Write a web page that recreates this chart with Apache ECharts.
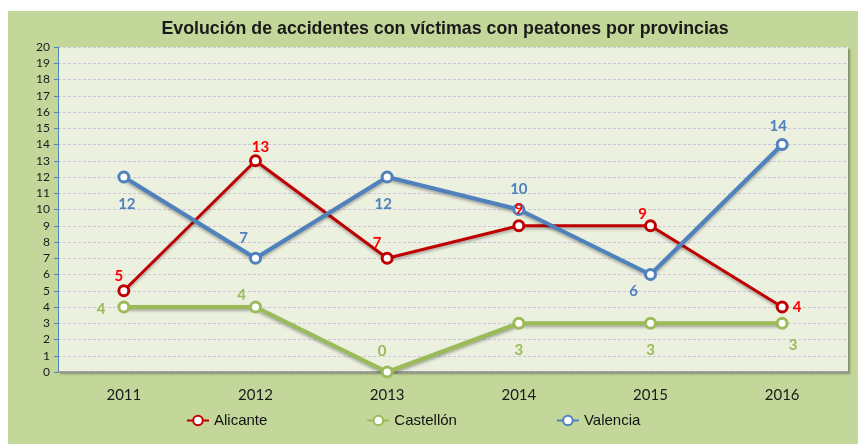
<!DOCTYPE html>
<html>
<head>
<meta charset="utf-8">
<style>
  html, body { margin: 0; padding: 0; background: #ffffff; }
  #chart { width: 858px; height: 444px; }
</style>
<script src="https://cdn.jsdelivr.net/npm/echarts@6/dist/echarts.min.js"></script>
</head>
<body>
<div id="chart"></div>
<script>
// Accidentes con víctimas con peatones, por provincia y año
const years = ['2011', '2012', '2013', '2014', '2015', '2016'];
const alicante = [5, 13, 7, 9, 9, 4];
const castellon = [4, 4, 0, 3, 3, 3];
const valencia = [12, 7, 12, 10, 6, 14];

// Where each value label sits relative to its point, how far away, and a small nudge
const alicanteLabelPos = ['top', 'top', 'top', 'top', 'top', 'right'];
const alicanteLabelGap = [6, 3, 6, 5, 3, 4];
const alicanteLabelShift = [[-5, 5], [5, 3], [-10, 5], [0, 2], [-8, 5], [0, 0]];
const castellonLabelPos = ['left', 'top', 'top', 'bottom', 'bottom', 'bottom'];
const castellonLabelGap = [12, 4, 12, 13, 13, 13];
const castellonLabelShift = [[0, 2], [-14, 6], [-5, 5], [0, 0], [0, 0], [11, -5]];
const valenciaLabelPos = ['bottom', 'top', 'bottom', 'top', 'bottom', 'top'];
const valenciaLabelGap = [13, 6, 13, 10, 10, 8];
const valenciaLabelShift = [[3, 0], [-12, 0], [-4, 0], [0, 4], [-17, -7], [-4, 4]];

const labelFont = 'Lato, "Open Sans", sans-serif';

function withLabels(values, positions, gaps, shifts) {
  return values.map((v, i) => ({
    value: v,
    label: { position: positions[i], distance: gaps[i], offset: shifts[i] }
  }));
}

function makeSeries(name, data, color, labelColor, width) {
  return {
    name: name,
    type: 'line',
    data: data,
    symbol: 'circle',
    symbolSize: 10,
    itemStyle: { color: '#ffffff', borderColor: color, borderWidth: 3 },
    lineStyle: {
      color: color, width: width,
      shadowColor: 'rgba(0,0,0,0.3)', shadowBlur: 3, shadowOffsetY: 2
    },
    label: {
      show: true,
      color: labelColor,
      fontFamily: labelFont,
      fontWeight: 'bold',
      fontSize: 15
    },
    z: 3
  };
}

const chart = echarts.init(document.getElementById('chart'));
chart.setOption({
  backgroundColor: '#ffffff',
  animation: false,
  graphic: [{
    type: 'rect',
    shape: { x: 8, y: 11, width: 850, height: 433 },
    style: { fill: '#c4d79b' },
    z: -10
  }],
  title: {
    text: 'Evolución de accidentes con víctimas con peatones por provincias',
    left: 440,
    textAlign: 'center',
    top: 15,
    textStyle: {
      fontFamily: '"Liberation Sans Narrow", "Arial Narrow", "Liberation Sans", sans-serif',
      fontWeight: 'bold',
      fontSize: 17.8,
      color: '#1a1a1a'
    }
  },
  legend: {
    bottom: 11,
    left: 181,
    itemGap: 99,
    itemWidth: 22,
    itemHeight: 12,
    textStyle: { fontFamily: '"Liberation Sans", sans-serif', fontSize: 15, color: '#111111' },
    data: ['Alicante', 'Castellón', 'Valencia']
  },
  grid: {
    left: 58, right: 10, top: 47, bottom: 72,
    show: true,
    backgroundColor: '#ebf0df',
    borderWidth: 0,
    shadowColor: 'rgba(0,0,0,0.35)',
    shadowBlur: 2,
    shadowOffsetX: 2,
    shadowOffsetY: 2
  },
  xAxis: {
    type: 'category',
    data: years,
    boundaryGap: true,
    axisLine: { lineStyle: { color: '#8a8a8a', width: 1.5 } },
    axisTick: { show: false },
    axisLabel: { fontFamily: labelFont, fontSize: 15, color: '#1a1a1a', margin: 16 }
  },
  yAxis: {
    type: 'value',
    min: 0, max: 20, interval: 1,
    axisLine: { show: true, lineStyle: { color: '#4f81bd', width: 1 } },
    axisTick: { show: true, length: 4, lineStyle: { color: '#4f81bd' } },
    axisLabel: { fontFamily: labelFont, fontSize: 12, color: '#1a1a1a', margin: 8 },
    splitLine: { lineStyle: { color: '#cdc5da', type: [3, 2], width: 1 } }
  },
  series: [
    makeSeries('Alicante', withLabels(alicante, alicanteLabelPos, alicanteLabelGap, alicanteLabelShift), '#c00000', '#ff0000', 3),
    makeSeries('Castellón', withLabels(castellon, castellonLabelPos, castellonLabelGap, castellonLabelShift), '#9bbb59', '#9bbb59', 4),
    makeSeries('Valencia', withLabels(valencia, valenciaLabelPos, valenciaLabelGap, valenciaLabelShift), '#4f81bd', '#4f81bd', 4)
  ]
});
</script>
</body>
</html>
